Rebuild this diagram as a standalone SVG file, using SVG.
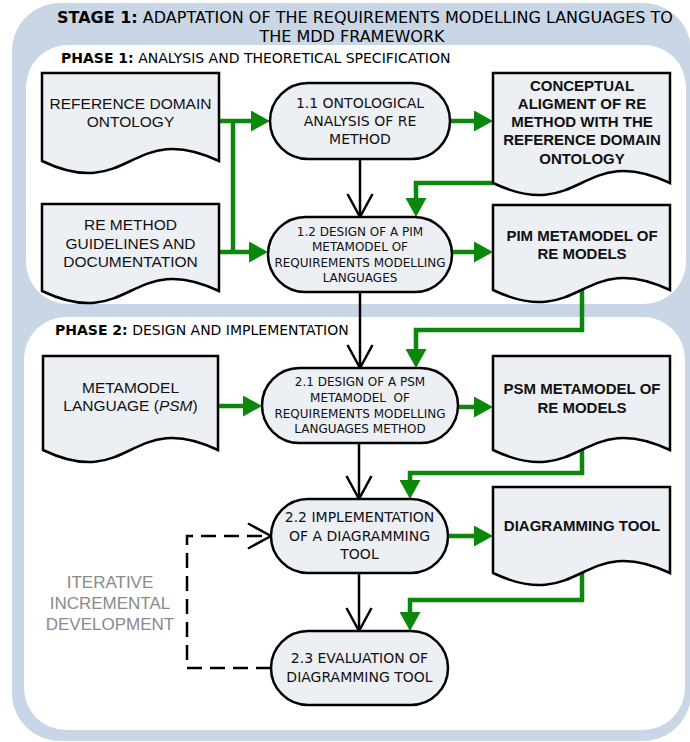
<svg xmlns="http://www.w3.org/2000/svg" width="690" height="742" viewBox="0 0 690 742">
  <style>
    .stage { fill: #c8d6e6; }
    .phase { fill: #ffffff; }
    .title { font-family: "DejaVu Sans", "Liberation Sans", sans-serif; fill: #000; }
    .proc { fill: #eceff4; stroke: #000; stroke-width: 2.5; }
    .doc { fill: #eceff4; stroke: #000; stroke-width: 2.5; stroke-linejoin: miter; }
    .ptxt { font-family: "DejaVu Sans", "Liberation Sans", sans-serif; font-size: 14px; fill: #111; text-anchor: middle; }
    .ptxt-s { font-size: 12px; }
    .dtxt { font-family: "Liberation Sans", Arial, sans-serif; font-size: 15.5px; fill: #111; text-anchor: middle; }
    .dtxt-b { font-family: "Liberation Sans", Arial, sans-serif; font-size: 15px; font-weight: bold; fill: #111; text-anchor: middle; }
    .flow { fill: none; stroke: #0b870b; stroke-width: 4.5; stroke-linejoin: miter; }
    .seq { fill: none; stroke: #000; stroke-width: 2.5; }
    .loop { fill: none; stroke: #000; stroke-width: 2.5; stroke-dasharray: 15 8; }
    .note { font-family: "Liberation Sans", Arial, sans-serif; font-size: 17px; fill: #8a8a8a; text-anchor: middle; }
  </style>
  <defs>
    <marker id="head-green" markerUnits="userSpaceOnUse" viewBox="0 0 19 21" markerWidth="19" markerHeight="21" refX="0" refY="10.5" orient="auto">
      <path d="M0,0 L19,10.5 L0,21 Z" fill="#0b870b"/>
    </marker>
    <marker id="head-open" markerUnits="userSpaceOnUse" viewBox="-2 -2 28 29" markerWidth="28" markerHeight="29" refX="23" refY="12.5" orient="auto" overflow="visible">
      <path d="M0,0 L23,12.5 L0,25" fill="none" stroke="#000" stroke-width="2.5" stroke-linejoin="round"/>
    </marker>
  </defs>

  <!-- stage and phase panels -->
  <rect class="stage" x="12" y="3" width="679" height="738" rx="48"/>
  <rect class="phase" x="26" y="45" width="660" height="259" rx="42"/>
  <rect class="phase" x="24" y="317" width="661" height="413" rx="42"/>

  <text class="title" x="57" y="23" font-size="16"><tspan font-weight="bold">STAGE 1:</tspan> ADAPTATION OF THE REQUIREMENTS MODELLING LANGUAGES TO</text>
  <text class="title" x="352" y="42" font-size="16" text-anchor="middle">THE MDD FRAMEWORK</text>
  <text class="title" x="61" y="63" font-size="14"><tspan font-weight="bold">PHASE 1:</tspan> ANALYSIS AND THEORETICAL SPECIFICATION</text>
  <text class="title" x="55" y="335" font-size="14"><tspan font-weight="bold">PHASE 2:</tspan> DESIGN AND IMPLEMENTATION</text>

  <!-- connectors -->
  <g id="connectors">
    <path class="flow" d="M219 121 H251" marker-end="url(#head-green)"/>
    <path class="flow" d="M233 121 V252"/>
    <path class="flow" d="M219 252 H249" marker-end="url(#head-green)"/>
    <path class="flow" d="M450 121 H474" marker-end="url(#head-green)"/>
    <path class="flow" d="M493 183 H416 V198" marker-end="url(#head-green)"/>
    <path class="flow" d="M452 252 H474" marker-end="url(#head-green)"/>
    <path class="flow" d="M582 290 V330 H416 V349" marker-end="url(#head-green)"/>
    <path class="flow" d="M218 406 H243" marker-end="url(#head-green)"/>
    <path class="flow" d="M458 407 H474" marker-end="url(#head-green)"/>
    <path class="flow" d="M582 450 V473 H410 V480" marker-end="url(#head-green)"/>
    <path class="flow" d="M448 536 H474" marker-end="url(#head-green)"/>
    <path class="flow" d="M582 573 V600 H410 V612" marker-end="url(#head-green)"/>

    <path class="seq" d="M360 159 V217" marker-end="url(#head-open)"/>
    <path class="seq" d="M360 292 V368" marker-end="url(#head-open)"/>
    <path class="seq" d="M359 443 V499" marker-end="url(#head-open)"/>
    <path class="seq" d="M359 573 V631" marker-end="url(#head-open)"/>

    <path class="loop" d="M271 668 H187 V536 H271" marker-end="url(#head-open)"/>
  </g>

  <text class="note" x="110" y="588">ITERATIVE</text>
  <text class="note" x="110" y="609">INCREMENTAL</text>
  <text class="note" x="110" y="630">DEVELOPMENT</text>

  <!-- documents -->
  <g id="doc-reference-ontology">
    <path class="doc" d="M42 73 H219 V161 C130.5 119 130.5 203 42 161 Z"/>
    <text class="dtxt" x="130.5" y="108.5">REFERENCE DOMAIN</text>
    <text class="dtxt" x="130.5" y="126.5">ONTOLOGY</text>
  </g>
  <g id="doc-re-guidelines">
    <path class="doc" d="M42 204 H219 V291 C130.5 249 130.5 333 42 291 Z"/>
    <text class="dtxt" x="130.5" y="229.5">RE METHOD</text>
    <text class="dtxt" x="130.5" y="248.5">GUIDELINES AND</text>
    <text class="dtxt" x="130.5" y="266.5">DOCUMENTATION</text>
  </g>
  <g id="doc-conceptual-alignment">
    <path class="doc" d="M493 73 H670 V183 C581.5 141 581.5 225 493 183 Z"/>
    <text class="dtxt-b" x="582" y="90.5">CONCEPTUAL</text>
    <text class="dtxt-b" x="582" y="108.8">ALIGMENT OF RE</text>
    <text class="dtxt-b" x="582" y="127.1">METHOD WITH THE</text>
    <text class="dtxt-b" x="582" y="145.4">REFERENCE DOMAIN</text>
    <text class="dtxt-b" x="582" y="163.7">ONTOLOGY</text>
  </g>
  <g id="doc-pim-metamodel">
    <path class="doc" d="M493 205 H670 V290 C581.5 248 581.5 332 493 290 Z"/>
    <text class="dtxt-b" x="582" y="240.5">PIM METAMODEL OF</text>
    <text class="dtxt-b" x="582" y="258.5">RE MODELS</text>
  </g>
  <g id="doc-metamodel-language">
    <path class="doc" d="M43 356 H218 V450 C130.5 408 130.5 492 43 450 Z"/>
    <text class="dtxt" x="130.5" y="392.5">METAMODEL</text>
    <text class="dtxt" x="130.5" y="410.5">LANGUAGE (<tspan font-style="italic">PSM</tspan>)</text>
  </g>
  <g id="doc-psm-metamodel">
    <path class="doc" d="M493 356 H670 V450 C581.5 408 581.5 492 493 450 Z"/>
    <text class="dtxt-b" x="582" y="393.5">PSM METAMODEL OF</text>
    <text class="dtxt-b" x="582" y="412.5">RE MODELS</text>
  </g>
  <g id="doc-diagramming-tool">
    <path class="doc" d="M493 487 H670 V573 C581.5 531 581.5 615 493 573 Z"/>
    <text class="dtxt-b" x="582" y="530.5">DIAGRAMMING TOOL</text>
  </g>

  <!-- processes -->
  <g id="proc-1-1">
    <rect class="proc" x="270" y="83" width="180" height="76" rx="38"/>
    <text class="ptxt" x="360" y="108">1.1 ONTOLOGICAL</text>
    <text class="ptxt" x="360" y="126">ANALYSIS OF RE</text>
    <text class="ptxt" x="360" y="144">METHOD</text>
  </g>
  <g id="proc-1-2">
    <rect class="proc" x="268" y="217" width="184" height="75" rx="37.5"/>
    <text class="ptxt ptxt-s" x="360" y="235.5">1.2 DESIGN OF A PIM</text>
    <text class="ptxt ptxt-s" x="360" y="251">METAMODEL OF</text>
    <text class="ptxt ptxt-s" x="360" y="266.5">REQUIREMENTS MODELLING</text>
    <text class="ptxt ptxt-s" x="360" y="282">LANGUAGES</text>
  </g>
  <g id="proc-2-1">
    <rect class="proc" x="262" y="368" width="196" height="75" rx="37.5"/>
    <text class="ptxt ptxt-s" x="360" y="385.5">2.1 DESIGN OF A PSM</text>
    <text class="ptxt ptxt-s" x="360" y="401.5" xml:space="preserve">METAMODEL  OF</text>
    <text class="ptxt ptxt-s" x="360" y="417.5">REQUIREMENTS MODELLING</text>
    <text class="ptxt ptxt-s" x="360" y="432.5">LANGUAGES METHOD</text>
  </g>
  <g id="proc-2-2">
    <rect class="proc" x="271" y="499" width="177" height="74" rx="37"/>
    <text class="ptxt" x="359.5" y="522">2.2 IMPLEMENTATION</text>
    <text class="ptxt" x="359.5" y="541">OF A DIAGRAMMING</text>
    <text class="ptxt" x="359.5" y="559">TOOL</text>
  </g>
  <g id="proc-2-3">
    <rect class="proc" x="271" y="631" width="177" height="74" rx="37"/>
    <text class="ptxt" x="359.5" y="663">2.3 EVALUATION OF</text>
    <text class="ptxt" x="359.5" y="682">DIAGRAMMING TOOL</text>
  </g>
</svg>
